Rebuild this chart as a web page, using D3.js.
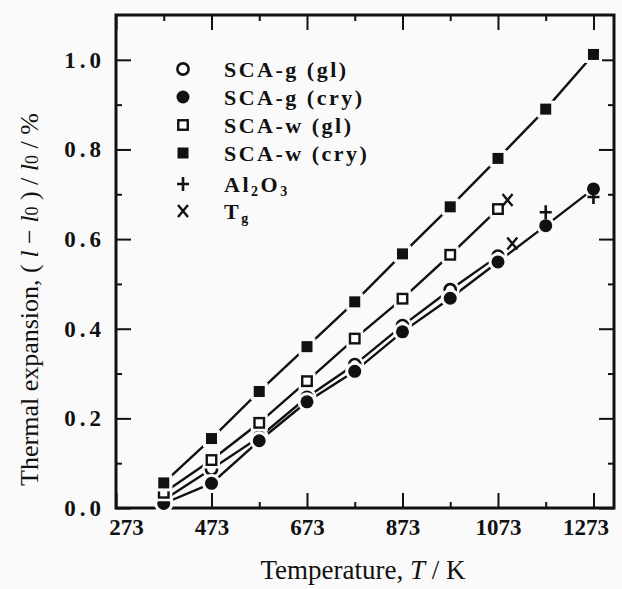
<!DOCTYPE html>
<html>
<head>
<meta charset="utf-8">
<script src="https://cdn.jsdelivr.net/npm/d3@7"></script>
<style>
  body { margin: 0; background: #fafafa; }
  svg { display: block; }
  .tick text { font-family: "Liberation Serif", serif; font-weight: bold; font-size: 23px; fill: #111; }
  .legend text { font-family: "Liberation Serif", serif; font-weight: bold; font-size: 22px; letter-spacing: 2.5px; fill: #111; }
  .title { font-family: "Liberation Serif", serif; fill: #111; }
</style>
</head>
<body>
<div id="chart"></div>
<script>
const W = 622, H = 589;
const M = { left: 116, right: 8, top: 15, bottom: 81 };
const BG = "#fafafa";

// measured temperatures (K)
const temps = [373, 473, 573, 673, 773, 873, 973, 1073, 1173, 1273];
const scaGGl = [0.018, 0.087, 0.158, 0.247, 0.32, 0.407, 0.487, 0.562];
const scaGCry = [0.01, 0.055, 0.15, 0.237, 0.305, 0.393, 0.468, 0.549, 0.63, 0.712];
const scaWGl = [0.034, 0.107, 0.19, 0.283, 0.378, 0.467, 0.565, 0.667];
const scaWCry = [0.056, 0.155, 0.26, 0.36, 0.46, 0.567, 0.672, 0.78, 0.89, 1.012];
const al2o3T = [1173, 1273];
const al2o3V = [0.66, 0.694];
const tgT = [1093, 1103];
const tgV = [0.687, 0.59];

const xMajor = [273, 473, 673, 873, 1073, 1273];
const xMinor = [373, 573, 773, 973, 1173];
const yMajor = [0, 0.2, 0.4, 0.6, 0.8, 1.0];
const yMinor = [0.1, 0.3, 0.5, 0.7, 0.9];

const series = [
  { name: "SCA-g (gl)", values: scaGGl, shape: "circle", filled: false },
  { name: "SCA-g (cry)", values: scaGCry, shape: "circle", filled: true },
  { name: "SCA-w (gl)", values: scaWGl, shape: "square", filled: false },
  { name: "SCA-w (cry)", values: scaWCry, shape: "square", filled: true },
];

const svg = d3.select("#chart").append("svg").attr("width", W).attr("height", H);
svg.append("rect").attr("width", W).attr("height", H).attr("fill", BG);

const x = d3.scaleLinear().domain([273, 1316]).range([M.left, W - M.right]);
const y = d3.scaleLinear().domain([0, 1.1]).range([H - M.bottom, M.top]);

function tickAxis(axis, scale, major, minor, translate, fmt) {
  const gMaj = svg.append("g").attr("transform", translate)
    .call(axis(scale).tickValues(major).tickSize(-15).tickPadding(fmt ? 11 : 0).tickFormat(fmt || (() => "")));
  const gMin = svg.append("g").attr("transform", translate)
    .call(axis(scale).tickValues(minor).tickSize(-6).tickFormat(() => ""));
  [gMaj, gMin].forEach(g => {
    g.select(".domain").remove();
    g.selectAll(".tick line").attr("stroke", "#111").attr("stroke-width", 2);
  });
  return gMaj;
}

const gx = tickAxis(d3.axisBottom, x, xMajor, xMinor, `translate(0,${H - M.bottom})`, d3.format("d"));
gx.selectAll(".tick text").filter(d => d === 273).attr("dx", 10);
gx.selectAll(".tick text").filter(d => d === 1273).attr("dx", -8);
tickAxis(d3.axisTop, x, xMajor, xMinor, `translate(0,${M.top})`);
const gy = tickAxis(d3.axisLeft, y, yMajor, yMinor, `translate(${M.left},0)`, d3.format(".1f"));
gy.selectAll(".tick text").style("letter-spacing", "4px");
tickAxis(d3.axisRight, y, yMajor, yMinor, `translate(${W - M.right},0)`);

// frame
svg.append("rect")
  .attr("x", M.left).attr("y", M.top)
  .attr("width", W - M.left - M.right).attr("height", H - M.top - M.bottom)
  .attr("fill", "none").attr("stroke", "#111").attr("stroke-width", 3);

// connecting lines
const line = d3.line().x(d => x(d[0])).y(d => y(d[1]));
const plot = svg.append("g");
series.forEach(s => {
  const pts = s.values.map((v, i) => [temps[i], v]);
  plot.append("path").datum(pts)
    .attr("d", line).attr("fill", "none").attr("stroke", "#111").attr("stroke-width", 2.4);
});

function drawMarker(g, shape, filled, cx, cy) {
  if (shape === "circle") {
    g.append("circle").attr("cx", cx).attr("cy", cy).attr("r", 9.5).attr("fill", BG);
    g.append("circle").attr("cx", cx).attr("cy", cy).attr("r", filled ? 6.5 : 5.6)
      .attr("fill", filled ? "#111" : "#fff").attr("stroke", "#111").attr("stroke-width", filled ? 0 : 2.6);
  } else if (shape === "square") {
    g.append("rect").attr("x", cx - 8.5).attr("y", cy - 8.5).attr("width", 17).attr("height", 17).attr("fill", BG);
    const s = filled ? 11 : 9.5;
    g.append("rect").attr("x", cx - s / 2).attr("y", cy - s / 2).attr("width", s).attr("height", s)
      .attr("fill", filled ? "#111" : "#fff").attr("stroke", "#111").attr("stroke-width", filled ? 0 : 2.4);
  } else if (shape === "plus") {
    g.append("path").attr("d", `M${cx - 6},${cy}H${cx + 6}M${cx},${cy - 7}V${cy + 7}`)
      .attr("stroke", "#111").attr("stroke-width", 2.6);
  } else if (shape === "cross") {
    g.append("path").attr("d", `M${cx - 5},${cy - 6}L${cx + 5},${cy + 6}M${cx + 5},${cy - 6}L${cx - 5},${cy + 6}`)
      .attr("stroke", "#111").attr("stroke-width", 2.4);
  }
}

series.forEach(s => {
  s.values.forEach((v, i) => drawMarker(plot.append("g"), s.shape, s.filled, x(temps[i]), y(v)));
});
al2o3T.forEach((t, i) => drawMarker(plot.append("g"), "plus", false, x(t), y(al2o3V[i])));
tgT.forEach((t, i) => drawMarker(plot.append("g"), "cross", false, x(t), y(tgV[i])));

// legend
const legendRows = [
  { label: ["SCA-g (gl)"], shape: "circle", filled: false, yPos: 69 },
  { label: ["SCA-g (cry)"], shape: "circle", filled: true, yPos: 97 },
  { label: ["SCA-w (gl)"], shape: "square", filled: false, yPos: 125 },
  { label: ["SCA-w (cry)"], shape: "square", filled: true, yPos: 153 },
  { label: ["Al", "2", "O", "3"], shape: "plus", filled: false, yPos: 184 },
  { label: ["T", "g"], shape: "cross", filled: false, yPos: 211 },
];
const legend = svg.append("g").attr("class", "legend");
legendRows.forEach(r => {
  const g = legend.append("g");
  drawMarker(g, r.shape, r.filled, 183, r.yPos);
  const t = g.append("text").attr("x", 224).attr("y", r.yPos + 8);
  r.label.forEach((part, i) => {
    const sub = i % 2 === 1;
    t.append("tspan").text(part)
      .attr("font-size", sub ? 14 : null)
      .attr("dy", sub ? 4 : (i > 0 ? -4 : 0));
  });
});

// axis titles
svg.append("text").attr("class", "title")
  .attr("x", (M.left + W - M.right) / 2 - 2).attr("y", 579)
  .attr("text-anchor", "middle").attr("font-size", 27)
  .call(t => {
    t.append("tspan").text("Temperature, ");
    t.append("tspan").attr("font-style", "italic").text("T");
    t.append("tspan").text(" / K");
  });

const yt = svg.append("text").attr("class", "title")
  .attr("transform", `translate(38,${(M.top + H - M.bottom) / 2 + 38}) rotate(-90)`)
  .attr("text-anchor", "middle").attr("font-size", 26);
yt.append("tspan").text("Thermal expansion, ( ");
yt.append("tspan").attr("font-style", "italic").text("l");
yt.append("tspan").text(" \u2212 ");
yt.append("tspan").attr("font-style", "italic").text("l");
yt.append("tspan").attr("font-size", 18).text("0");
yt.append("tspan").text(" ) / ");
yt.append("tspan").attr("font-style", "italic").text("l");
yt.append("tspan").attr("font-size", 18).text("0");
yt.append("tspan").text(" / %");
</script>
</body>
</html>
